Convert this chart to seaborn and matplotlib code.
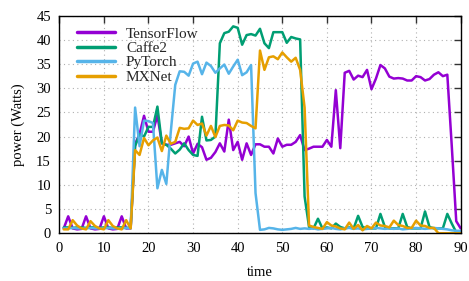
import numpy as np
import pandas as pd
import matplotlib
matplotlib.use("Agg")
import matplotlib.pyplot as plt
import seaborn as sns

time = list(range(1, 91))

tensorflow = [1.0, 3.5, 1.0, 0.8, 0.9, 3.5, 1.0, 0.8, 0.9, 3.5,
              1.0, 0.8, 0.9, 3.5, 1.0, 1.0, 18.5, 20.5, 24.3, 21.0,
              21.0, 24.4, 18.6, 18.3, 18.3, 18.6, 18.9, 18.0, 20.0, 16.5,
              18.5, 17.8, 15.2, 15.6, 16.8, 18.6, 16.9, 23.5, 17.2, 18.9,
              15.2, 18.6, 16.2, 18.4, 18.4, 17.9, 17.9, 16.5, 19.6, 17.9,
              18.3, 18.3, 18.9, 20.3, 17.2, 17.5, 17.9, 17.9, 17.9, 19.3,
              17.9, 29.6, 17.6, 33.2, 33.6, 31.8, 32.6, 32.3, 33.8, 29.8,
              32.0, 34.8, 34.1, 32.4, 32.0, 32.1, 32.0, 31.6, 31.6, 32.5,
              32.3, 31.6, 31.9, 32.8, 33.3, 32.5, 32.8, 18.0, 2.5, 1.0]

caffe2 = [1.2, 1.2, 1.1, 1.2, 1.2, 1.1, 1.2, 1.2, 1.1, 1.2,
          1.2, 1.1, 1.2, 1.2, 1.1, 1.2, 18.0, 20.5, 20.0, 22.0,
          22.0, 26.2, 18.6, 18.3, 17.5, 16.5, 17.3, 18.6, 17.2, 16.2,
          16.0, 24.1, 19.2, 19.3, 20.0, 39.3, 41.4, 41.7, 42.8, 42.5,
          39.0, 41.0, 41.2, 40.9, 42.3, 39.3, 38.3, 41.6, 41.6, 41.6,
          39.4, 40.6, 40.3, 40.1, 7.6, 1.3, 1.0, 3.0, 1.0, 1.2,
          1.0, 2.0, 1.3, 1.0, 1.2, 1.0, 3.6, 1.3, 1.0, 1.0,
          1.0, 4.0, 1.3, 1.0, 1.0, 1.0, 4.0, 1.3, 1.0, 1.0,
          1.0, 4.5, 1.3, 1.0, 1.0, 1.0, 4.0, 2.0, 0.2, 0.0]

pytorch = [1.0, 1.0, 1.1, 1.0, 1.0, 1.0, 1.1, 1.0, 1.0, 1.0,
           1.1, 1.0, 1.0, 1.0, 1.1, 1.0, 26.0, 18.0, 23.3, 23.2,
           22.8, 9.3, 13.1, 10.2, 21.0, 30.7, 33.5, 33.4, 32.6, 35.1,
           35.5, 32.9, 35.3, 34.6, 33.2, 34.1, 34.9, 33.0, 34.5, 35.9,
           32.7, 33.3, 34.8, 8.3, 0.7, 0.8, 1.1, 1.0, 0.8, 0.7,
           0.8, 0.9, 1.1, 0.9, 1.0, 0.9, 1.0, 0.8, 0.9, 1.0,
           1.1, 0.9, 0.8, 1.0, 1.1, 0.9, 1.0, 0.8, 0.9, 1.0,
           1.1, 1.0, 0.9, 1.0, 0.9, 1.0, 0.8, 0.9, 1.0, 1.1,
           1.0, 0.9, 1.0, 1.1, 1.0, 0.9, 0.8, 0.6, 0.5, 0.5]

mxnet = [0.8, 0.8, 2.7, 1.6, 1.0, 0.8, 2.5, 1.5, 1.0, 0.8,
         2.7, 1.5, 1.0, 0.8, 2.7, 1.0, 17.2, 16.2, 19.7, 18.2,
         19.2, 19.8, 17.0, 20.2, 18.5, 18.9, 21.8, 21.6, 21.7, 23.3,
         22.4, 22.7, 20.2, 22.2, 19.9, 22.2, 22.4, 22.3, 21.3, 23.3,
         22.9, 22.8, 22.2, 21.7, 37.8, 33.8, 36.4, 36.6, 36.0, 37.4,
         36.4, 35.5, 36.3, 33.8, 26.0, 1.6, 1.3, 1.1, 0.9, 2.3,
         1.6, 1.4, 1.0, 0.8, 2.2, 0.9, 1.7, 0.6, 1.5, 1.0,
         2.2, 1.6, 1.5, 1.2, 2.6, 1.7, 1.5, 1.1, 1.1, 2.6,
         1.6, 1.5, 1.1, 1.1, 0.0, 0.0, 0.0, 0.0, 0.0, 0.0]

names = ["TensorFlow", "Caffe2", "PyTorch", "MXNet"]
colors = ["#9400D3", "#009E73", "#56B4E9", "#E69F00"]

df = pd.DataFrame({
    "time": time * 4,
    "power": tensorflow + caffe2 + pytorch + mxnet,
    "framework": sum([[n] * len(time) for n in names], []),
})

sns.set_theme(style="white")
plt.rcParams["font.family"] = ["Liberation Serif", "DejaVu Serif"]

fig = plt.figure(figsize=(4.69, 2.81), dpi=100)
ax = fig.add_axes([0.1264, 0.170, 0.8559, 0.774])

sns.lineplot(data=df, x="time", y="power", hue="framework",
             hue_order=names, palette=dict(zip(names, colors)),
             linewidth=1.8, ax=ax, legend=True)

ax.set_xlim(0, 90)
ax.set_ylim(0, 45)
ax.set_xticks(range(0, 91, 10))
ax.set_yticks(range(0, 46, 5))
ax.grid(True, linestyle=(0, (1, 3)), color="#b0b0b0", linewidth=0.8)
ax.set_axisbelow(True)
for s in ax.spines.values():
    s.set_color("black")
    s.set_linewidth(1.0)
ax.tick_params(direction="in", length=5, width=1.0, color="#333333",
               top=True, right=True, labelsize=10.5, labelcolor="black",
               pad=6)
ax.set_xlabel("time", fontsize=10.5, color="black", labelpad=8)
ax.set_ylabel("power (Watts)", fontsize=10.5, color="black", labelpad=8)

leg = ax.legend(loc="upper left", frameon=False, fontsize=11,
                handlelength=2.5, handletextpad=0.7, labelspacing=0.05,
                borderaxespad=0.5, bbox_to_anchor=(0.01, 1.012))
for line in leg.get_lines():
    line.set_linewidth(2.5)

fig.savefig("out.png", dpi=100)
